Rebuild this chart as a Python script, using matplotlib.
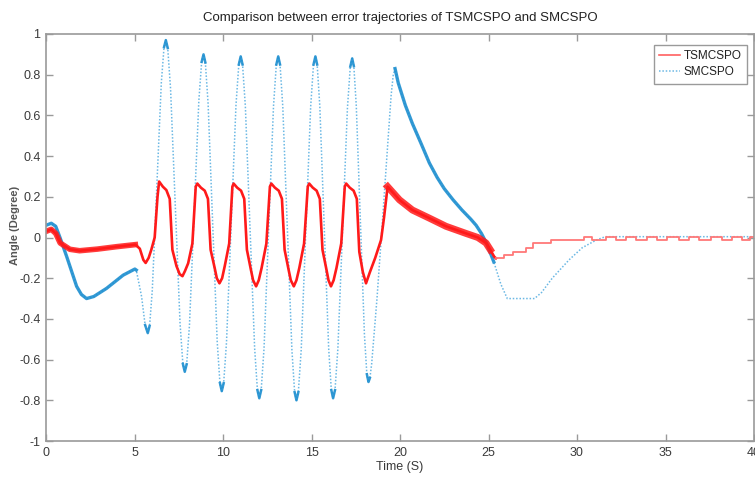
import matplotlib
matplotlib.use("Agg")
import matplotlib.pyplot as plt
from matplotlib.ticker import FuncFormatter

plt.rcParams['font.family'] = ['Liberation Sans', 'DejaVu Sans']

# TSMCSPO error
tsm_t = [0.0, 0.3, 0.55, 0.8, 1.35, 1.9, 2.9, 4.0, 5.05, 5.3, 5.5, 5.63, 5.8, 5.95, 6.14, 6.3,
         6.39, 6.6, 6.8, 6.99, 7.14, 7.37, 7.55, 7.71, 7.85, 8.03, 8.27, 8.46,
         8.55, 8.75, 8.97, 9.15, 9.3, 9.53, 9.65, 9.8, 9.95, 10.1, 10.35, 10.53,
         10.6, 10.8, 11.02, 11.2, 11.35, 11.58, 11.7, 11.87, 12.02, 12.18, 12.45, 12.65,
         12.73, 12.93, 13.15, 13.33, 13.48, 13.71, 13.83, 14.0, 14.15, 14.31, 14.58, 14.79,
         14.87, 15.07, 15.29, 15.47, 15.62, 15.85, 15.96, 16.1, 16.25, 16.41, 16.68, 16.88,
         16.96, 17.16, 17.38, 17.56, 17.7, 17.9, 18.08, 18.3, 18.6, 18.93, 19.1, 19.3,
         19.97, 20.7, 21.66, 22.6, 23.73, 24.4, 24.86, 25.1, 25.32, 25.42]
tsm_v = [0.03, 0.04, 0.02, -0.027, -0.058, -0.065, -0.057, -0.045, -0.035, -0.055, -0.11, -0.125, -0.1, -0.06, 0.0, 0.2,
         0.275, 0.25, 0.233, 0.19, -0.06, -0.14, -0.18, -0.19, -0.165, -0.127, -0.03, 0.25,
         0.265, 0.245, 0.23, 0.19, -0.06, -0.15, -0.2, -0.225, -0.2, -0.14, -0.03, 0.25,
         0.265, 0.245, 0.23, 0.19, -0.06, -0.16, -0.21, -0.24, -0.21, -0.15, -0.03, 0.25,
         0.265, 0.245, 0.23, 0.19, -0.06, -0.16, -0.21, -0.24, -0.21, -0.15, -0.03, 0.25,
         0.265, 0.245, 0.23, 0.19, -0.06, -0.16, -0.21, -0.24, -0.21, -0.15, -0.03, 0.25,
         0.265, 0.245, 0.23, 0.19, -0.07, -0.17, -0.225, -0.17, -0.1, -0.012, 0.1, 0.25,
         0.185, 0.135, 0.095, 0.055, 0.02, 0.0, -0.027, -0.06, -0.094, -0.102]

# quantised tail of TSMCSPO
step_t = [25.42, 25.89, 26.36, 27.11, 27.49, 28.52, 30.4, 30.87, 31.62, 32.19, 32.75, 33.31,
          33.97, 34.54, 35.1, 35.76, 36.32, 36.89, 37.55, 38.2, 38.77, 39.33, 39.8, 40.0]
step_v = [-0.102, -0.086, -0.07, -0.053, -0.029, -0.012, 0.004, -0.012, 0.004, -0.012, 0.004, -0.012,
          0.004, -0.012, 0.004, -0.012, 0.004, -0.012, 0.004, -0.012, 0.004, -0.012, 0.004, 0.004]

# SMCSPO error
smc_t = [0.0, 0.3, 0.55, 0.79, 1.17, 1.73, 2.0, 2.29, 2.7, 3.42, 4.36, 5.02, 5.1, 5.4, 5.6,
         5.75, 5.852, 6.005, 6.26, 6.515, 6.668,
         6.77, 6.877, 7.037, 7.305, 7.573, 7.733,
         7.84, 7.946, 8.105, 8.37, 8.635, 8.794,
         8.9, 9.003, 9.158, 9.415, 9.673, 9.827,
         9.93, 10.037, 10.198, 10.465, 10.733, 10.893,
         11.0, 11.105, 11.263, 11.525, 11.788, 11.945,
         12.05, 12.157, 12.318, 12.585, 12.853, 13.013,
         13.12, 13.223, 13.378, 13.635, 13.893, 14.047,
         14.15, 14.257, 14.418, 14.685, 14.953, 15.113,
         15.22, 15.32, 15.47, 15.72, 15.97, 16.12,
         16.22, 16.328, 16.49, 16.76, 17.03, 17.192,
         17.3, 17.392, 17.53, 17.76, 17.99, 18.128,
         18.22, 18.3, 18.4, 18.7, 19.0, 19.3, 19.5, 19.62,
         19.72, 19.9, 20.3, 20.7, 21.2, 21.66, 22.1, 22.5, 23.0, 23.5, 24.0, 24.3, 24.6, 24.9,
         25.3, 25.7, 26.06, 27.6, 28.0, 28.6, 29.55, 30.3, 31.1, 31.6, 40.0]
smc_v = [0.06, 0.07, 0.055, 0.0, -0.094, -0.24, -0.28, -0.30, -0.29, -0.25, -0.185, -0.155, -0.16, -0.29, -0.43,
         -0.47, -0.435, -0.26, 0.25, 0.76, 0.935,
         0.97, 0.931, 0.732, 0.155, -0.422, -0.621,
         -0.66, -0.623, -0.432, 0.12, 0.672, 0.863,
         0.9, 0.86, 0.658, 0.073, -0.513, -0.715,
         -0.755, -0.716, -0.515, 0.068, 0.65, 0.85,
         0.89, 0.85, 0.645, 0.05, -0.545, -0.75,
         -0.79, -0.75, -0.545, 0.05, 0.645, 0.85,
         0.89, 0.85, 0.643, 0.045, -0.553, -0.76,
         -0.80, -0.76, -0.553, 0.045, 0.643, 0.85,
         0.89, 0.85, 0.645, 0.05, -0.545, -0.75,
         -0.79, -0.75, -0.546, 0.045, 0.636, 0.84,
         0.88, 0.842, 0.647, 0.085, -0.477, -0.672,
         -0.71, -0.69, -0.62, -0.3, 0.07, 0.45, 0.7, 0.8,
         0.83, 0.76, 0.65, 0.56, 0.46, 0.366, 0.295, 0.24, 0.185, 0.135, 0.09, 0.06, 0.02, -0.03,
         -0.12, -0.23, -0.30, -0.30, -0.27, -0.2, -0.11, -0.05, -0.012, 0.004, 0.004]

# indices of the SMCSPO extrema (where the trace looks dense)
smc_extrema = [15, 21, 27, 33, 39, 45, 51, 57, 63, 69, 75, 81, 87, 95]

x_ticks = [0, 5, 10, 15, 20, 25, 30, 35, 40]
y_ticks = [-1, -0.8, -0.6, -0.4, -0.2, 0, 0.2, 0.4, 0.6, 0.8, 1]

RED = '#ff1a1a'
BLUE = '#1e8fd0'
LIGHT_BLUE = '#6bb8e4'
GREY = '#9a9a9a'
TXT = '#3a3a3a'

fig = plt.figure(figsize=(7.55, 4.84), dpi=100)
ax = fig.add_axes([46 / 755, 43 / 484, 708 / 755, 407 / 484])

# SMCSPO: faint dotted trace, denser (darker) on the slow parts and extrema
ax.plot(smc_t, smc_v, color=LIGHT_BLUE, lw=1.1, ls=(0, (1, 1.2)), label='SMCSPO')
ax.plot(smc_t[:13], smc_v[:13], color=BLUE, lw=2.4, alpha=0.9)
ax.plot(smc_t[95:110], smc_v[95:110], color=BLUE, lw=2.4, alpha=0.9)
for i in smc_extrema[:-1]:
    ax.plot(smc_t[i - 1:i + 2], smc_v[i - 1:i + 2], color=BLUE, lw=1.8, alpha=0.9)

# TSMCSPO
ax.plot(tsm_t, tsm_v, color=RED, lw=1.9, label='TSMCSPO', solid_joinstyle='round')
ax.step(step_t, step_v, where='post', color='#ff7878', lw=1.3)
ax.plot(tsm_t[:9], tsm_v[:9], color=RED, lw=4, alpha=0.85)
ax.plot(tsm_t[87:96], tsm_v[87:96], color=RED, lw=5, alpha=0.85)

ax.set_xlim(0, 40)
ax.set_ylim(-1, 1)
ax.set_xticks(x_ticks)
ax.set_yticks(y_ticks)
ax.yaxis.set_major_formatter(FuncFormatter(lambda v, p: '%g' % v))
ax.tick_params(direction='in', length=5, width=1, colors=GREY, labelcolor=TXT,
               labelsize=9, top=True, right=True, pad=4)
for s in ax.spines.values():
    s.set_color(GREY)
    s.set_linewidth(1.2)

ax.set_title('Comparison between error trajectories of TSMCSPO and SMCSPO',
             fontsize=9.5, color='#222222', pad=9)
ax.set_xlabel('Time (S)', fontsize=9, color=TXT, labelpad=2)
ax.set_ylabel('Angle (Degree)', fontsize=8, color='#555555', fontweight='bold')
ax.yaxis.set_label_coords(-0.037, 0.53)

handles, labels = ax.get_legend_handles_labels()
order = [labels.index('TSMCSPO'), labels.index('SMCSPO')]
leg = ax.legend([handles[i] for i in order], [labels[i] for i in order],
                loc='upper right', bbox_to_anchor=(0.99, 0.973), borderaxespad=0,
                fancybox=False, framealpha=1, edgecolor=GREY, fontsize=8.5,
                handlelength=1.8, handletextpad=0.3, borderpad=0.45, labelspacing=0.35)
leg.get_frame().set_linewidth(1.0)
leg.get_lines()[0].set_linewidth(1.2)
leg.get_lines()[0].set_color('#ff6060')
for t in leg.get_texts():
    t.set_color('#222222')

fig.savefig('out.png', dpi=100)
